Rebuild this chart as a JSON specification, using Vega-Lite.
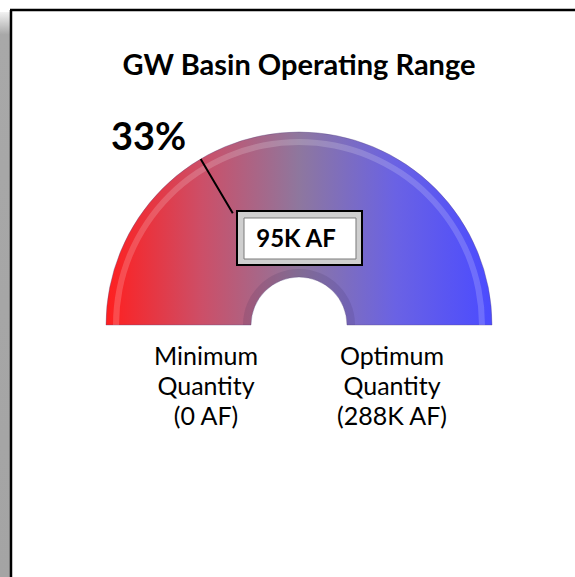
{
  "$schema": "https://vega.github.io/schema/vega-lite/v6.json",
  "width": 575,
  "height": 577,
  "autosize": "none",
  "padding": 0,
  "background": "white",
  "config": {"view": {"stroke": null}, "text": {"font": "Lato", "color": "black"}},
  "data": {"values": [{"gauge": "GW Basin Operating Range", "min_kaf": 0, "max_kaf": 288, "current_kaf": 95, "pct_label": "33%", "current_label": "95K AF", "min_label": "Minimum\nQuantity\n(0 AF)", "max_label": "Optimum\nQuantity\n(288K AF)"}]},
  "layer": [
    {
      "mark": {"type": "rect", "fill": {"gradient": "linear", "x1": 0, "y1": 0, "x2": 0, "y2": 1, "stops": [{"offset": 0, "color": "#f2f2f2"}, {"offset": 0.04, "color": "#a8a8a8"}, {"offset": 1, "color": "#a4a4a4"}]}},
      "encoding": {
        "x": {"datum": -1.5452, "type": "quantitative", "scale": {"domain": [-1.5452, 1.4264], "nice": false, "zero": false}, "axis": null},
        "x2": {"datum": -1.4935},
        "y": {"datum": 1.6176, "type": "quantitative", "scale": {"domain": [-1.3023, 1.6796], "nice": false, "zero": false}, "axis": null},
        "y2": {"datum": -1.3023}
      }
    },
    {
      "mark": {"type": "rule", "color": "black", "strokeWidth": 2.5},
      "encoding": {
        "x": {"datum": -1.4884, "type": "quantitative", "scale": {"domain": [-1.5452, 1.4264], "nice": false, "zero": false}, "axis": null},
        "y": {"datum": 1.6279, "type": "quantitative", "scale": {"domain": [-1.3023, 1.6796], "nice": false, "zero": false}, "axis": null},
        "y2": {"datum": -1.3023}
      }
    },
    {
      "mark": {"type": "rule", "color": "black", "strokeWidth": 2.5},
      "encoding": {
        "x": {"datum": -1.4935, "type": "quantitative", "scale": {"domain": [-1.5452, 1.4264], "nice": false, "zero": false}, "axis": null},
        "x2": {"datum": 1.4264},
        "y": {"datum": 1.6279, "type": "quantitative", "scale": {"domain": [-1.3023, 1.6796], "nice": false, "zero": false}, "axis": null}
      }
    },
    {
      "mark": {"type": "text", "fontSize": 29, "fontWeight": "bold", "align": "center", "baseline": "alphabetic"},
      "encoding": {
        "x": {"datum": 0, "type": "quantitative", "scale": {"domain": [-1.5452, 1.4264], "nice": false, "zero": false}, "axis": null},
        "y": {"datum": 1.2920, "type": "quantitative", "scale": {"domain": [-1.3023, 1.6796], "nice": false, "zero": false}, "axis": null},
        "text": {"field": "gauge"}
      }
    },
    {
      "mark": {
        "type": "arc", "innerRadius": 48, "outerRadius": 193,
        "fill": {"gradient": "linear", "x1": 0, "y1": 0, "x2": 1, "y2": 0, "stops": [
          {"offset": 0, "color": "#ff1f1f"},
          {"offset": 0.25, "color": "#cc4f68"},
          {"offset": 0.5, "color": "#8e779e"},
          {"offset": 0.75, "color": "#6a62e4"},
          {"offset": 1, "color": "#4b4bff"}
        ]},
        "stroke": "#5a4a80", "strokeWidth": 0.6, "strokeOpacity": 0.6
      },
      "encoding": {
        "x": {"datum": 0, "type": "quantitative", "scale": {"domain": [-1.5452, 1.4264], "nice": false, "zero": false}, "axis": null},
        "y": {"datum": 0, "type": "quantitative", "scale": {"domain": [-1.3023, 1.6796], "nice": false, "zero": false}, "axis": null},
        "theta": {"field": "min_kaf", "type": "quantitative", "stack": null, "scale": {"domain": [0, 288], "range": [-1.5708, 1.5708]}},
        "theta2": {"field": "max_kaf"}
      }
    },
    {
      "mark": {"type": "arc", "innerRadius": 180, "outerRadius": 186, "fill": "white", "fillOpacity": 0.18},
      "encoding": {
        "x": {"datum": 0, "type": "quantitative", "scale": {"domain": [-1.5452, 1.4264], "nice": false, "zero": false}, "axis": null},
        "y": {"datum": 0, "type": "quantitative", "scale": {"domain": [-1.3023, 1.6796], "nice": false, "zero": false}, "axis": null},
        "theta": {"field": "min_kaf", "type": "quantitative", "stack": null, "scale": {"domain": [0, 288], "range": [-1.5708, 1.5708]}},
        "theta2": {"field": "max_kaf"}
      }
    },
    {
      "mark": {"type": "arc", "innerRadius": 48, "outerRadius": 56, "fill": "#2a1a4a", "fillOpacity": 0.12},
      "encoding": {
        "x": {"datum": 0, "type": "quantitative", "scale": {"domain": [-1.5452, 1.4264], "nice": false, "zero": false}, "axis": null},
        "y": {"datum": 0, "type": "quantitative", "scale": {"domain": [-1.3023, 1.6796], "nice": false, "zero": false}, "axis": null},
        "theta": {"field": "min_kaf", "type": "quantitative", "stack": null, "scale": {"domain": [0, 288], "range": [-1.5708, 1.5708]}},
        "theta2": {"field": "max_kaf"}
      }
    },
    {
      "mark": {"type": "arc", "innerRadius": 130, "outerRadius": 193, "stroke": "black", "strokeWidth": 2},
      "encoding": {
        "x": {"datum": 0, "type": "quantitative", "scale": {"domain": [-1.5452, 1.4264], "nice": false, "zero": false}, "axis": null},
        "y": {"datum": 0, "type": "quantitative", "scale": {"domain": [-1.3023, 1.6796], "nice": false, "zero": false}, "axis": null},
        "theta": {"field": "current_kaf", "type": "quantitative", "stack": null, "scale": {"domain": [0, 288], "range": [-1.5708, 1.5708]}},
        "theta2": {"field": "current_kaf"}
      }
    },
    {
      "mark": {"type": "rect", "fill": "#cfcfcf", "stroke": "black", "strokeWidth": 2},
      "encoding": {
        "x": {"datum": -0.3204, "type": "quantitative", "scale": {"domain": [-1.5452, 1.4264], "nice": false, "zero": false}, "axis": null},
        "x2": {"datum": 0.3256},
        "y": {"datum": 0.5891, "type": "quantitative", "scale": {"domain": [-1.3023, 1.6796], "nice": false, "zero": false}, "axis": null},
        "y2": {"datum": 0.3101}
      }
    },
    {
      "mark": {"type": "rect", "fill": "white", "stroke": "#7a7a7a", "strokeWidth": 1},
      "encoding": {
        "x": {"datum": -0.2842, "type": "quantitative", "scale": {"domain": [-1.5452, 1.4264], "nice": false, "zero": false}, "axis": null},
        "x2": {"datum": 0.2946},
        "y": {"datum": 0.5530, "type": "quantitative", "scale": {"domain": [-1.3023, 1.6796], "nice": false, "zero": false}, "axis": null},
        "y2": {"datum": 0.3411}
      }
    },
    {
      "mark": {"type": "text", "fontSize": 24, "fontWeight": "bold", "align": "center", "baseline": "alphabetic"},
      "encoding": {
        "x": {"datum": -0.0155, "type": "quantitative", "scale": {"domain": [-1.5452, 1.4264], "nice": false, "zero": false}, "axis": null},
        "y": {"datum": 0.4031, "type": "quantitative", "scale": {"domain": [-1.3023, 1.6796], "nice": false, "zero": false}, "axis": null},
        "text": {"field": "current_label"}
      }
    },
    {
      "mark": {"type": "text", "fontSize": 38, "fontWeight": "bold", "align": "center", "baseline": "alphabetic"},
      "encoding": {
        "x": {"datum": -0.7778, "type": "quantitative", "scale": {"domain": [-1.5452, 1.4264], "nice": false, "zero": false}, "axis": null},
        "y": {"datum": 0.9044, "type": "quantitative", "scale": {"domain": [-1.3023, 1.6796], "nice": false, "zero": false}, "axis": null},
        "text": {"field": "pct_label"}
      }
    },
    {
      "mark": {"type": "text", "fontSize": 25, "align": "center", "baseline": "alphabetic", "lineBreak": "\n", "lineHeight": 30},
      "encoding": {
        "x": {"datum": -0.4806, "type": "quantitative", "scale": {"domain": [-1.5452, 1.4264], "nice": false, "zero": false}, "axis": null},
        "y": {"datum": -0.2067, "type": "quantitative", "scale": {"domain": [-1.3023, 1.6796], "nice": false, "zero": false}, "axis": null},
        "text": {"field": "min_label"}
      }
    },
    {
      "mark": {"type": "text", "fontSize": 25, "align": "center", "baseline": "alphabetic", "lineBreak": "\n", "lineHeight": 30},
      "encoding": {
        "x": {"datum": 0.4806, "type": "quantitative", "scale": {"domain": [-1.5452, 1.4264], "nice": false, "zero": false}, "axis": null},
        "y": {"datum": -0.2067, "type": "quantitative", "scale": {"domain": [-1.3023, 1.6796], "nice": false, "zero": false}, "axis": null},
        "text": {"field": "max_label"}
      }
    }
  ]
}
